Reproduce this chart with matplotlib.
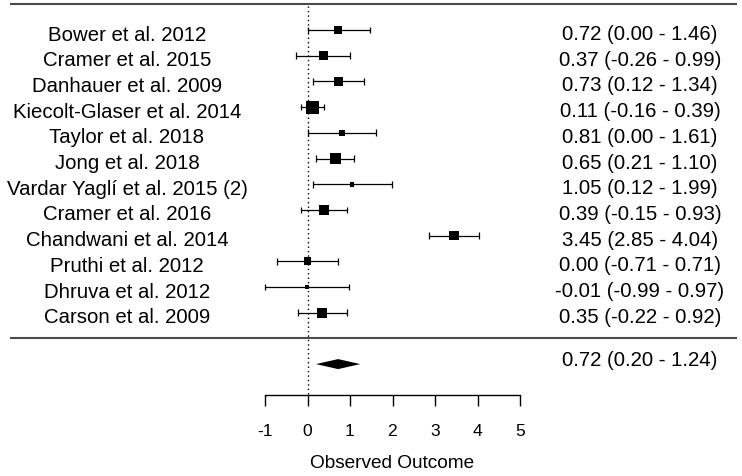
import matplotlib
matplotlib.use("Agg")
import matplotlib.pyplot as plt

# ---- data ----
studies = ["Bower et al. 2012", "Cramer et al. 2015", "Danhauer et al. 2009",
           "Kiecolt-Glaser et al. 2014", "Taylor et al. 2018", "Jong et al. 2018",
           "Vardar Yaglí et al. 2015 (2)", "Cramer et al. 2016", "Chandwani et al. 2014",
           "Pruthi et al. 2012", "Dhruva et al. 2012", "Carson et al. 2009"]
est = [0.72, 0.37, 0.73, 0.11, 0.81, 0.65, 1.05, 0.39, 3.45, 0.00, -0.01, 0.35]
lower = [0.00, -0.26, 0.12, -0.16, 0.00, 0.21, 0.12, -0.15, 2.85, -0.71, -0.99, -0.22]
upper = [1.46, 0.99, 1.34, 0.39, 1.61, 1.10, 1.99, 0.93, 4.04, 0.71, 0.97, 0.92]
pooled_est, pooled_lo, pooled_hi = 0.72, 0.20, 1.24
box_px = [7.5, 9, 9.7, 13, 6.3, 11, 4.7, 10.5, 9.3, 7.7, 4, 10]  # weight-based box sizes
xticks = [-1, 0, 1, 2, 3, 4, 5]
xlabel = "Observed Outcome"

plt.rcParams['font.family'] = ['Liberation Sans', 'DejaVu Sans']

W, H = 742, 476
x0px, upx = 307.5, 42.5
y0px, rpx = 4.3, 25.7

fig = plt.figure(figsize=(W / 100, H / 100), dpi=100)
ax = fig.add_axes([0, 0, 1, 1])
ax.set_xlim(-x0px / upx, (W - x0px) / upx)
ax.set_ylim((H - y0px) / rpx, -y0px / rpx)
ax.patch.set_visible(False)

rows = list(range(1, len(studies) + 1))
axis_r = 15.2
left_x = (127 - x0px) / upx
right_x = (640 - x0px) / upx
line_l = (10 - x0px) / upx
line_r = (737 - x0px) / upx

# separators
ax.hlines([0, 13], line_l, line_r, color='#4a4a4a', lw=1.5)
# reference line
ax.vlines(0, 0.05, axis_r, color='black', lw=1.0, linestyles=(0, (1, 2.2)))

cap = 0.13
ax.hlines(rows, lower, upper, color='black', lw=0.9)
ax.vlines(lower, [r - cap for r in rows], [r + cap for r in rows], color='black', lw=0.9)
ax.vlines(upper, [r - cap for r in rows], [r + cap for r in rows], color='black', lw=0.9)
ax.scatter(est, rows, marker='s', s=[(p * 0.72) ** 2 for p in box_px],
           color='black', linewidths=0, zorder=3)

# pooled diamond
dr = 14
dh = 0.195
ax.fill([pooled_lo, pooled_est, pooled_hi, pooled_est],
        [dr, dr - dh, dr, dr + dh], color='black', lw=0)

for r, name, e, lo, hi in zip(rows, studies, est, lower, upper):
    ax.text(left_x, r + 0.41, name, ha='center', va='baseline', fontsize=14.7)
    ax.text(right_x, r + 0.39, f"{e:.2f} ({lo:.2f} - {hi:.2f})",
            ha='center', va='baseline', fontsize=14.7)
ax.text(right_x, 14.06, f"{pooled_est:.2f} ({pooled_lo:.2f} - {pooled_hi:.2f})",
        ha='center', va='baseline', fontsize=14.7)

# x axis
for s in ['top', 'left', 'right']:
    ax.spines[s].set_visible(False)
ax.spines['bottom'].set_position(('data', axis_r))
ax.spines['bottom'].set_bounds(xticks[0], xticks[-1])
ax.spines['bottom'].set_linewidth(1.0)
ax.set_xticks(xticks)
ax.set_xticklabels([str(t) for t in xticks])
ax.tick_params(axis='x', length=7.9, width=1.0, direction='out', labelsize=12.6, pad=13)
ax.set_yticks([])
ax.text(2, 17.85, xlabel, ha='center', va='center', fontsize=13.7)

fig.savefig("out.png", dpi=100)
